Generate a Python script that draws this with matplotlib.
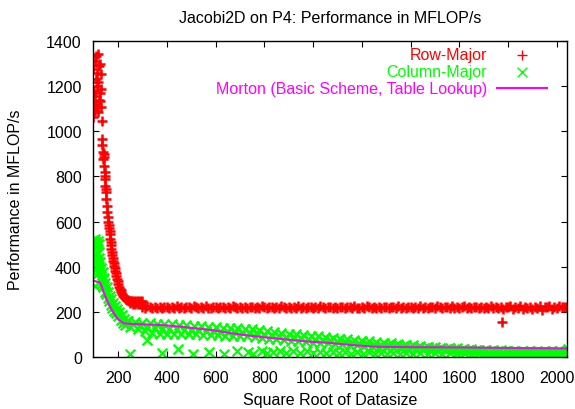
#!/usr/bin/env python3
"""Jacobi2D on P4: performance in MFLOP/s vs square root of data size."""

import matplotlib

matplotlib.use("Agg")
import matplotlib.pyplot as plt

# ---- Row-Major: steep start, then a flat band around 220 ----
ROW_START_X = [97, 97, 100, 102, 104, 104, 106, 108, 111, 111, 113, 115, 118, 118, 118,
               120, 122, 125, 125, 127, 129, 131, 131, 134, 134, 136, 138, 140, 141, 143,
               143, 145, 145, 147, 148, 150, 152, 152, 154, 156, 158, 160, 161, 163, 165,
               166, 168, 169, 171, 172, 174, 176, 178, 180, 182, 184, 186, 188, 190, 192,
               195, 198, 200, 203, 206, 210, 214, 218, 222, 226, 230, 234, 238, 242, 246,
               250, 254, 258, 262, 266, 270, 274, 278, 282, 286, 290, 294, 298,
               250, 260, 270, 280, 290]
ROW_START_Y = [1276, 1063, 1120, 1180, 1313, 1158, 1090, 1230, 1335, 1114, 1260, 1200, 1342, 1217, 1084,
               1140, 1290, 1298, 1136, 1170, 1254, 1187, 1106, 1047, 966, 940, 908, 875, 900, 886,
               848, 820, 789, 800, 759, 745, 730, 700, 670, 641, 620, 600, 585, 570, 560,
               545, 525, 510, 495, 478, 465, 450, 440, 425, 415, 405, 395, 380, 370, 358,
               345, 335, 325, 312, 303, 295, 287, 280, 272, 266, 262, 257, 254, 252, 250,
               248, 246, 250, 244, 248, 243, 250, 245, 249, 242, 247, 244, 248,
               238, 236, 237, 235, 236]

# flat part, sampled every 10 from 300 to 2040
ROW_FLAT_X = list(range(300, 2041, 10))
ROW_FLAT_Y = [222, 218, 224, 220, 217, 222, 218, 221, 218, 223,
              220, 217, 222, 219, 224, 218, 220, 217, 222, 220,
              218, 224, 220, 217, 222, 218, 224, 219, 217, 222,
              220, 218, 223, 220, 217, 222, 218, 224, 220, 218,
              222, 219, 221, 217, 223, 220, 218, 222, 217, 224,
              220, 218, 222, 220, 217, 222, 218, 224, 220, 218,
              222, 217, 221, 219, 224, 218, 222, 218, 223, 220,
              217, 222, 219, 224, 220, 218, 222, 220, 217, 222,
              218, 223, 220, 217, 222, 220, 218, 224, 219, 217,
              222, 218, 224, 220, 218, 222, 219, 221, 216, 223,
              220, 218, 222, 220, 217, 224, 218, 222, 218, 223,
              220, 217, 222, 219, 224, 218, 221, 217, 222, 220,
              218, 224, 220, 217, 222, 220, 218, 224, 219, 222,
              217, 222, 228, 218, 221, 216, 223, 220, 218, 222,
              215, 222, 219, 224, 216, 220, 218, 223, 212, 222,
              220, 224, 214, 221, 218, 224, 211, 222, 219, 223,
              213, 222, 218, 224, 208, 222, 220, 224, 213, 221,
              218, 224, 220, 222, 221]
ROW_OUTLIER_X = [1774]
ROW_OUTLIER_Y = [154]

# ---- Column-Major: cluster near 500, decay, then a thin band ----
COL_START_X = [97, 99, 100, 102, 104, 106, 108, 110, 113, 116, 120,
               100, 102, 104, 105, 107, 109, 111, 113, 115, 118, 118, 121, 123, 126,
               128, 131, 134, 137, 140, 143, 145, 148, 151, 154, 157, 160, 163, 166,
               170, 173, 176, 180, 184, 188, 192, 196, 200, 205, 210, 215, 220, 225,
               230, 235]
COL_START_Y = [505, 520, 490, 512, 498, 525, 488, 508, 495, 515, 500,
               450, 410, 313, 430, 385, 455, 365, 420, 395, 460, 400, 440, 375, 420,
               350, 395, 330, 375, 310, 350, 290, 330, 280, 310, 262, 290, 250, 272,
               232, 255, 218, 240, 205, 228, 195, 212, 180, 198, 165, 185, 150, 170,
               140, 160]

# band part, sampled every 10 from 240 to 2040
COL_BAND_X = list(range(240, 2041, 10))
COL_BAND_Y = [160, 134, 148, 156, 124, 142, 152, 114, 135, 150,
              106, 128, 148, 103, 126, 147, 101, 124, 145, 101,
              122, 143, 100, 121, 141, 100, 120, 139, 100, 119,
              136, 99, 117, 134, 97, 115, 132, 96, 113, 130,
              95, 112, 129, 94, 111, 128, 94, 110, 126, 93,
              108, 124, 90, 106, 118, 86, 102, 114, 82, 98,
              110, 78, 94, 106, 74, 90, 103, 71, 87, 101,
              69, 85, 98, 67, 82, 95, 64, 80, 92, 62,
              77, 89, 60, 74, 86, 58, 71, 82, 56, 69,
              79, 54, 66, 76, 52, 63, 73, 50, 61, 70,
              48, 58, 67, 46, 55, 64, 44, 53, 61, 43,
              51, 58, 41, 49, 55, 39, 46, 52, 37, 44,
              49, 35, 42, 46, 33, 40, 44, 31, 38, 42,
              30, 36, 40, 28, 34, 38, 27, 32, 36, 26,
              31, 34, 25, 29, 33, 24, 28, 31, 23, 27,
              30, 22, 26, 29, 22, 26, 28, 21, 25, 28,
              21, 24, 28, 20, 24, 28, 20, 24, 27, 20,
              24, 27, 20, 24, 27, 19, 23, 27, 19, 23,
              27]

COL_LOW_X = [249, 318, 379, 445, 508, 575, 635, 690, 735, 755, 790, 812, 836, 865, 890,
             918, 945, 974, 1000, 1029, 1055, 1082, 1105, 1130, 1155, 1180, 1205, 1230,
             1255, 1280, 1305, 1330, 1355, 1380, 1410, 1440, 1470, 1500, 1530, 1560,
             1590, 1620, 1650, 1680, 1710, 1740, 1770, 1800, 1830, 1860, 1890, 1920,
             1950, 1980, 2010, 2048]
COL_LOW_Y = [13, 76, 18, 35, 13, 20, 14, 28, 22, 14, 28, 18, 22, 28, 16,
             26, 18, 26, 16, 24, 18, 24, 16, 22, 14, 20, 14, 20,
             12, 18, 12, 18, 12, 16, 12, 16, 12, 16, 12, 16,
             12, 16, 12, 16, 12, 16, 12, 16, 12, 16, 12, 16,
             12, 16, 12, 35]

# ---- Morton (Basic Scheme, Table Lookup) ----
MORTON_X = [100, 112, 125, 132, 140, 150, 160, 172, 186, 200, 214, 227, 260, 300, 350,
            400, 450, 520, 600, 660, 742, 865, 960, 1070, 1150, 1234, 1275, 1400, 1644,
            1800, 2040]
MORTON_Y = [338, 334, 331, 315, 290, 262, 238, 213, 188, 168, 156, 149, 146, 145, 143,
            140, 135, 127, 117, 106, 94, 80, 70, 62, 54, 47, 45, 44, 42,
            40, 38]

RED = "#ff0000"
GREEN = "#00ff00"
MAGENTA = "#ff00ff"
FS = 11.5


def main() -> None:
    plt.rcParams["font.family"] = ["Liberation Sans", "DejaVu Sans"]
    plt.rcParams["font.size"] = FS
    plt.rcParams["path.simplify"] = False

    fig = plt.figure(figsize=(5.75, 4.10), dpi=100)
    ax = fig.add_axes([0.1617, 0.1268, 0.8239, 0.7708])

    # dense gnuplot point clouds: thicker strokes so the bands read as solid
    row_x = ROW_START_X + ROW_FLAT_X + ROW_OUTLIER_X
    row_y = ROW_START_Y + ROW_FLAT_Y + ROW_OUTLIER_Y
    ax.scatter(row_x, row_y, marker="+", s=52, linewidths=1.8, color=RED,
               label="Row-Major", zorder=2)

    col_x = COL_START_X + COL_BAND_X + COL_LOW_X
    col_y = COL_START_Y + COL_BAND_Y + COL_LOW_Y
    ax.scatter(col_x, col_y, marker="x", s=49, linewidths=1.6, color=GREEN,
               label="Column-Major", zorder=3)

    ax.plot(MORTON_X, MORTON_Y, color=MAGENTA, linewidth=1.5, zorder=4,
            label="Morton (Basic Scheme, Table Lookup)")

    ax.set_xlim(97, 2041)
    ax.set_ylim(0, 1400)
    ax.set_xticks(range(200, 2001, 200))
    ax.set_yticks(range(0, 1401, 200))
    ax.tick_params(direction="in", top=True, right=True, length=4.5, width=0.8,
                   labelsize=FS)
    ax.tick_params(axis="y", pad=8)
    ax.tick_params(axis="x", pad=9)
    for sp in ax.spines.values():
        sp.set_linewidth(1.0)
        sp.set_zorder(5)

    ax.set_title("Jacobi2D on P4: Performance in MFLOP/s", fontsize=FS, pad=13.5)
    ax.set_xlabel("Square Root of Datasize", fontsize=FS)
    ax.set_ylabel("Performance in MFLOP/s", fontsize=FS)
    ax.xaxis.set_label_coords(0.5, -0.112)
    ax.yaxis.set_label_coords(-0.148, 0.5)

    leg = ax.legend(loc="upper right", bbox_to_anchor=(0.958, 0.98),
                    markerfirst=False, frameon=False, borderpad=0, borderaxespad=0,
                    handlelength=3.1, handletextpad=0.63, labelspacing=0.12,
                    scatterpoints=1, fontsize=FS)
    for txt, col in zip(leg.get_texts(), [RED, GREEN, MAGENTA]):
        txt.set_color(col)
    for h in leg.legend_handles[:2]:
        h.set_linewidths([1.0])

    fig.savefig("out.png", dpi=100, facecolor="white")
    plt.close(fig)


if __name__ == "__main__":
    main()
